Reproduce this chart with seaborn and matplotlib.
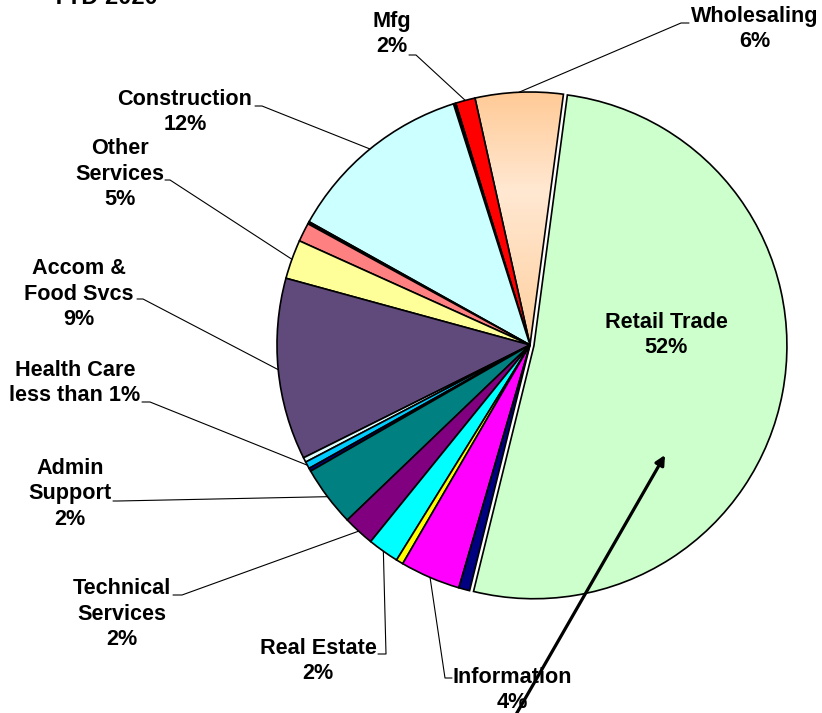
import numpy as np
import matplotlib
matplotlib.use('Agg')
import matplotlib.pyplot as plt
from matplotlib.colors import LinearSegmentedColormap
import seaborn as sns

# Slices in drawing order, counter-clockwise from the top (Wholesaling)
sectors = ['Wholesaling', 'Mfg', 'Other A', 'Construction', 'Other B', 'Other C',
           'Other Services', 'Accom & Food Svcs', 'Other D', 'Health Care', 'Other E',
           'Admin Support', 'Technical Services', 'Real Estate', 'Other F',
           'Information', 'Other G', 'Retail Trade']
shares = [5.6, 1.25, 0.15, 12.0, 0.15, 1.2,
          2.5, 11.6, 0.3, 0.45, 0.2,
          3.85, 2.0, 2.0, 0.45,
          3.85, 0.7, 51.7]
slice_labels = {
    'Wholesaling': 'Wholesaling\n6%',
    'Mfg': 'Mfg\n2%',
    'Construction': 'Construction\n12%',
    'Other Services': 'Other\nServices\n5%',
    'Accom & Food Svcs': 'Accom &\nFood Svcs\n9%',
    'Health Care': 'Health Care\nless than 1%',
    'Admin Support': 'Admin\nSupport\n2%',
    'Technical Services': 'Technical\nServices\n2%',
    'Real Estate': 'Real Estate\n2%',
    'Information': 'Information\n4%',
    'Retail Trade': 'Retail Trade\n52%',
}
title = 'YTD 2020'

colors = ['#FFD3A8', '#FF0000', '#000000', '#CCFFFF', '#000000', '#FF8080',
          '#FFFF99', '#604A7B', '#DDFFFF', '#00CCFF', '#000080',
          '#008080', '#800080', '#00FFFF', '#FFFF00',
          '#FF00FF', '#000080', '#CCFFCC']

sns.set_theme(style='white')
plt.rcParams['font.family'] = ['Liberation Sans', 'DejaVu Sans']

fig = plt.figure(figsize=(8.22, 7.13), dpi=100)
ax = fig.add_axes([0, 0, 1, 1])

cx, cy, r = 530, 345, 253
explode = [4 if s == 'Retail Trade' else 0 for s in sectors]
wedges, _ = ax.pie(shares, colors=colors, startangle=-82.4, counterclock=False,
                   center=(cx, cy), radius=r, explode=explode,
                   wedgeprops=dict(edgecolor='black', linewidth=1.2))

# peach gradient on the wholesaling slice
grad = np.linspace(0, 1, 256).reshape(-1, 1)
peach = LinearSegmentedColormap.from_list(
    'peach', [(0, '#FFC994'), (0.4, '#FFE8D2'), (1, '#FFCF9E')])
im = ax.imshow(grad, extent=[460, 575, cy, 88], cmap=peach, aspect='auto',
               origin='upper', zorder=0)
wedges[0].set_facecolor('none')
im.set_clip_path(wedges[0])

ax.set_xlim(0, 822)
ax.set_ylim(713, 0)
ax.set_aspect('equal')
ax.axis('off')

# label position and the short elbow of each leader line
layout = {
    'Wholesaling': ((755, 29), [(689, 23), (681, 23)]),
    'Mfg': ((392, 34), [(409, 55), (416, 55)]),
    'Construction': ((185, 112), [(255, 106), (262, 106)]),
    'Other Services': ((120, 174), [(165, 180), (170, 180)]),
    'Accom & Food Svcs': ((79, 294), [(137, 299), (143, 299)]),
    'Health Care': ((75, 383), [(142, 402), (150, 402)]),
    'Admin Support': ((70, 494), [(113, 501), (118, 501)]),
    'Technical Services': ((122, 614), [(173, 595), (182, 595)]),
    'Real Estate': ((318, 661), [(378, 654), (386, 654)]),
    'Information': ((512, 690), [(452, 678), (445, 678)]),
    'Retail Trade': ((666, 335), []),
}

for w, name in zip(wedges, sectors):
    if name not in layout:
        continue
    (tx, ty), elbow = layout[name]
    ax.text(tx, ty, slice_labels[name], ha='center', va='center', fontsize=15.6,
            fontweight='bold', linespacing=1.3, color='black', zorder=4)
    if elbow:
        mid = np.deg2rad((w.theta1 + w.theta2) / 2)
        ex, ey = w.center[0] + w.r * np.cos(mid), w.center[1] + w.r * np.sin(mid)
        xs = [p[0] for p in elbow] + [ex]
        ys = [p[1] for p in elbow] + [ey]
        ax.plot(xs, ys, color='black', lw=0.8, zorder=3)

ax.text(104, 3.5, title, ha='center', va='baseline', fontsize=17,
        fontweight='bold', color='black')

ax.annotate('', xy=(665, 455), xytext=(514, 718),
            arrowprops=dict(arrowstyle='-|>', lw=2.3, color='black',
                            mutation_scale=14, shrinkA=0, shrinkB=0),
            zorder=5, annotation_clip=False)

fig.savefig('out.png', dpi=100)
